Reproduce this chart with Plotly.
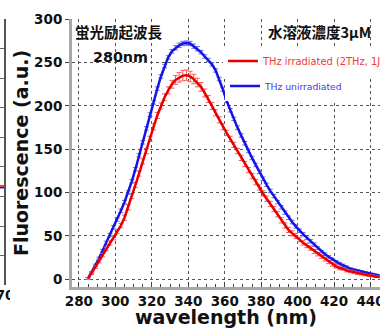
import plotly.graph_objects as go

# ---- data ----
wavelength = list(range(285, 446, 2))
blue_vals = [1, 8, 16, 24, 33, 42, 51, 60, 69, 79, 89, 100, 113, 127, 143, 158, 174, 190, 204, 220,
             234, 246, 256, 263, 267, 270, 272, 272.5, 272, 269, 266, 262, 257, 253, 248, 241, 231, 219, 206, 195,
             185, 175, 166, 157, 148, 140, 132, 124, 116, 109, 102, 96, 89, 83, 77, 71, 66, 61, 56, 52,
             48, 44, 40, 36, 32, 29, 26, 23, 20, 18, 16, 14, 12, 11, 10, 9, 8, 7, 6, 5, 4]
red_vals = [1, 7, 14, 21, 28, 35, 42, 48, 55, 62, 71, 83, 96, 109, 122, 136, 148, 162, 176, 189,
            200, 210, 218, 225, 230, 233, 235, 235.5, 234, 231, 227, 222, 215, 208, 200, 192, 184, 176, 169, 162,
            155, 148, 140, 133, 126, 119, 112, 106, 99, 93, 87, 81, 75, 68, 62, 57, 53, 50, 46, 42,
            39, 36, 32, 29, 26, 23, 20, 17, 15, 13, 12, 10, 9, 8, 7, 6, 5, 4.5, 4, 3, 3]
blue_err = [1, 1, 1.5, 1.5, 1.5, 2, 2, 2, 2, 2, 2, 2, 2, 2, 2, 2, 2, 2, 2, 2,
            2, 2, 2, 2, 2.5, 2.5, 2.5, 2.5, 2.5, 2.5, 2.5, 2, 2, 2, 2, 2, 2, 2, 2, 2,
            2, 2, 2, 2, 2, 2, 2, 2, 2, 2, 2, 2, 2, 2, 2, 2, 2, 2, 2, 2,
            2, 2, 2, 1.5, 1.5, 1.5, 1.5, 1.5, 1.5, 1.5, 1.5, 1.5, 1.5, 1, 1, 1, 1, 1, 1, 1, 1]
red_err = [1, 1.5, 1.5, 2, 2, 2, 2.5, 2.5, 2.5, 2.5, 3, 3, 3, 3, 3, 3, 3, 3, 3.5, 3.5,
           3.5, 4, 4, 4.5, 5, 5.5, 6, 6, 6, 5.5, 5, 5, 4.5, 4, 4, 3.5, 3.5, 3.5, 3, 3,
           3, 3, 3, 3, 3, 3, 3, 3, 3, 3, 3, 3, 3, 3, 3, 3, 3, 3, 2.5, 2.5,
           2.5, 2.5, 2.5, 2, 2, 2, 2, 2, 2, 2, 1.5, 1.5, 1.5, 1.5, 1.5, 1, 1, 1, 1, 1, 1]

x_ticks = [280, 300, 320, 340, 360, 380, 400, 420, 440]
y_ticks = [0, 50, 100, 150, 200, 250, 300]

# fragment of the neighbouring chart at the left edge
left_x = [0, 1]
left_red = [3.36, 3.36]
left_blue = [3.3, 3.3]
left_tick = [0.1]
left_ticktext = ["370"]

RED = "#e80000"
BLUE = "#1414e6"
GRID = "#555555"
W, H = 380, 328

fig = go.Figure()
fig.add_trace(go.Scatter(
    x=wavelength, y=blue_vals, mode="lines",
    name="<span style='color:#3a3ae8'>THz unirradiated</span>",
    line=dict(color=BLUE, width=2.5),
    error_y=dict(type="data", array=blue_err, color="#6f6ff5", thickness=1, width=2.5),
    legend="legend2",
))
fig.add_trace(go.Scatter(
    x=wavelength, y=red_vals, mode="lines",
    name="<span style='color:#f03838'>THz irradiated (2THz, 1J)</span>",
    line=dict(color=RED, width=2.5),
    error_y=dict(type="data", array=red_err, color="#ff5c5c", thickness=1, width=2.5),
    legend="legend",
))
# left fragment traces
fig.add_trace(go.Scatter(x=left_x, y=left_red, mode="lines", line=dict(color=RED, width=1.5),
                         xaxis="x3", yaxis="y3", showlegend=False, hoverinfo="skip"))
fig.add_trace(go.Scatter(x=left_x, y=left_blue, mode="lines", line=dict(color=BLUE, width=1.5),
                         xaxis="x3", yaxis="y3", showlegend=False, hoverinfo="skip"))

x0 = 72 / W
y0 = (H - 287) / H
y1 = (H - 19) / H

tickfont = dict(family="DejaVu Sans", size=13.5, color="#111111", weight="bold")

fig.update_layout(
    width=W, height=H,
    margin=dict(l=0, r=0, t=0, b=0, autoexpand=False),
    paper_bgcolor="white", plot_bgcolor="white",
    showlegend=True,
    xaxis=dict(
        domain=[x0, 1], range=[276.2, 445.2], anchor="y",
        tickvals=x_ticks, ticks="inside", ticklen=5, tickcolor="#444",
        minor=dict(dtick=5, ticks="inside", ticklen=3, tickcolor="#444", showgrid=False),
        showgrid=True, gridcolor=GRID, griddash="dot", gridwidth=1,
        showline=True, linecolor="#a8a8a8", linewidth=3,
        zeroline=False, tickfont=tickfont, ticklabeloverflow="allow",
        title=dict(text="wavelength (nm)", standoff=6,
                   font=dict(family="DejaVu Sans", size=19, color="#111", weight="bold")),
    ),
    xaxis2=dict(
        domain=[x0, 1], range=[276.2, 445.2], overlaying="x", side="top", anchor="y",
        tickvals=x_ticks, ticks="inside", ticklen=4, tickcolor="#444",
        minor=dict(dtick=5, ticks="inside", ticklen=2, tickcolor="#444", showgrid=False),
        showticklabels=False, showgrid=False, zeroline=False,
        showline=True, linecolor="#333", linewidth=1,
    ),
    yaxis=dict(
        domain=[y0, y1], range=[-8.9, 300.3], anchor="x",
        tickvals=y_ticks, ticks="outside", ticklen=4, tickcolor="#444",
        showgrid=True, gridcolor=GRID, griddash="dot", gridwidth=1,
        showline=True, linecolor="#a8a8a8", linewidth=3,
        zeroline=False, tickfont=tickfont, ticklabeloverflow="allow",
        title=dict(text="Fluorescence (a.u.)", standoff=1,
                   font=dict(family="DejaVu Sans", size=19, color="#111", weight="bold")),
    ),
    xaxis3=dict(
        domain=[0, 0.011], range=[0, 1], anchor="y3",
        tickvals=left_tick, ticktext=left_ticktext, ticks="", showgrid=False,
        zeroline=False, showline=False, tickfont=tickfont, ticklabeloverflow="allow",
    ),
    yaxis3=dict(
        domain=[y0 + 0.005, y1], range=[0, 9], anchor="x3", side="right",
        dtick=1, showticklabels=False, ticks="", showgrid=True, gridcolor="#666", gridwidth=1,
        zeroline=False, showline=True, linecolor="#555", linewidth=1.5,
    ),
    legend=dict(
        x=223 / W, y=(H - 61) / H, xanchor="left", yanchor="middle",
        bgcolor="white", borderwidth=0,
        font=dict(family="DejaVu Sans", size=9.9), itemwidth=30,
    ),
    legend2=dict(
        x=225 / W, y=(H - 86) / H, xanchor="left", yanchor="middle",
        bgcolor="white", borderwidth=0,
        font=dict(family="DejaVu Sans", size=9.2), itemwidth=30,
    ),
    annotations=[
        dict(text="蛍光励起波長", xref="paper", yref="paper", x=73 / W, y=(H - 32) / H,
             xanchor="left", yanchor="middle", showarrow=False,
             font=dict(family="Noto Sans CJK JP", size=14.5, color="#111", weight="bold")),
        dict(text="280nm", xref="paper", yref="paper", x=91 / W, y=(H - 57) / H,
             xanchor="left", yanchor="middle", showarrow=False,
             font=dict(family="DejaVu Sans", size=14.3, color="#111", weight="bold")),
        dict(text="水溶液濃度3μM", xref="paper", yref="paper", x=373 / W, y=(H - 32) / H,
             xanchor="right", yanchor="middle", showarrow=False,
             font=dict(family="Noto Sans CJK JP", size=14.5, color="#111", weight="bold")),
    ],
    shapes=[
        dict(type="rect", xref="paper", yref="paper", x0=10 / W, x1=40 / W,
             y0=(H - 308) / H, y1=(H - 289) / H, fillcolor="white", line=dict(width=0),
             layer="above"),
    ],
)

fig.write_html(
    "out.html",
    config={"displayModeBar": False},
    post_script="document.body.style.margin='0';document.body.style.padding='0';"
                "document.body.style.overflow='hidden';",
)
